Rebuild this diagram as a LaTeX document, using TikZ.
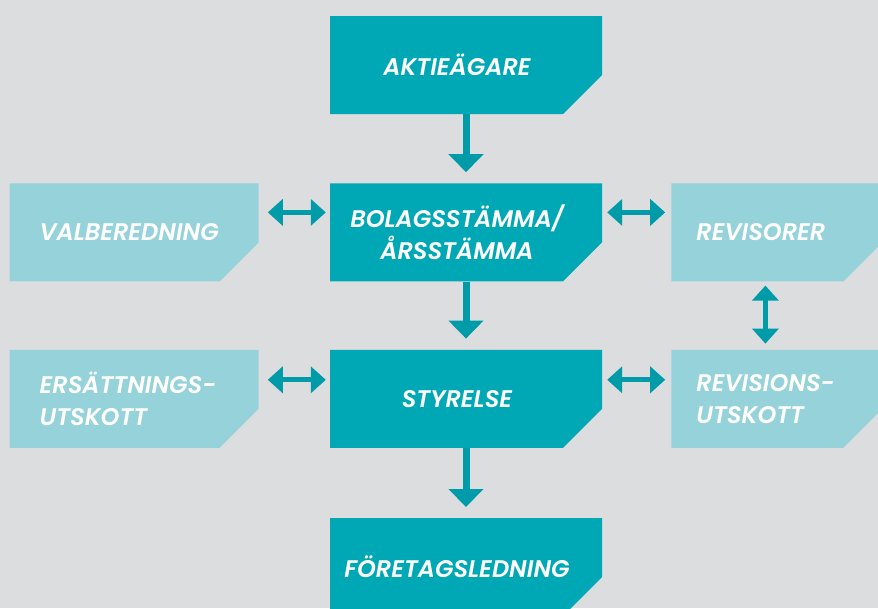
\documentclass[tikz,border=0pt]{standalone}
\usepackage{fontspec}
\setmainfont{Poppins}[ItalicFont=* SemiBold Italic]
\usetikzlibrary{arrows.meta,positioning}

\definecolor{bggray}{RGB}{220,221,223}
\definecolor{darkteal}{RGB}{0,168,182}
\definecolor{lightteal}{RGB}{150,210,218}
\definecolor{arrowteal}{RGB}{0,155,168}

\tikzset{
  cut fill/.style 2 args={path picture={
    \fill[#1] ([xshift=#2]path picture bounding box.north west)
      -- (path picture bounding box.north east)
      -- ([yshift=39pt]path picture bounding box.south east)
      -- ([xshift=-39pt]path picture bounding box.south east)
      -- ([xshift=#2]path picture bounding box.south west) -- cycle;}}
}

\begin{document}
\begin{tikzpicture}[x=1pt,y=-1pt,node distance=69pt,
    box/.style={rectangle,inner sep=0pt,minimum height=98pt,text=white,
      font=\fontsize{24}{32}\selectfont\itshape},
    main box/.style={box,cut fill={darkteal}{18pt},minimum width=290pt,align=center},
    left box/.style={box,cut fill={lightteal}{0pt},minimum width=249pt,text width=189pt,align=left},
    right box/.style={box,cut fill={lightteal}{0pt},minimum width=211pt,text width=161pt,align=left},
    down arrow/.style={-{Triangle[length=18pt,width=34pt]},line width=7pt,
      draw=arrowteal,shorten >=11pt},
    both arrow/.style={{Triangle[length=15pt,width=26pt]}-{Triangle[length=15pt,width=26pt]},
      line width=5pt,draw=arrowteal}]

  \useasboundingbox (0,0) rectangle (878,608);
  \fill[bggray] (0,0) rectangle (878,608);

  % main column
  \node[main box] (aktie) at (457,65) {AKTIEÄGARE};
  \node[main box] (bolag) [below=69pt of aktie] {BOLAGSSTÄMMA/\\ÅRSSTÄMMA};
  \node[main box] (styr) [below=68pt of bolag] {STYRELSE};
  \node[main box] (ledn) [below=70pt of styr] {FÖRETAGSLEDNING};

  % side boxes
  \node[left box] (valb) [left=53pt of bolag] {VALBEREDNING};
  \node[left box] (ersutsk) [left=53pt of styr] {ERSÄTTNINGS-\\UTSKOTT};
  \node[right box] (revis) [right=69pt of bolag] {REVISORER};
  \node[right box] (revutsk) [right=69pt of styr] {REVISIONS-\\UTSKOTT};

  \draw[down arrow] ([xshift=9pt]aktie.south) -- ([xshift=9pt]bolag.north);
  \draw[down arrow] ([xshift=9pt]bolag.south) -- ([xshift=9pt]styr.north);
  \draw[down arrow] ([xshift=9pt]styr.south) -- ([xshift=9pt]ledn.north);

  \draw[both arrow,shorten <=9pt,shorten >=4pt] ([yshift=20pt]valb.east) -- ([xshift=18pt,yshift=20pt]bolag.west);
  \draw[both arrow,shorten <=5pt,shorten >=6pt] ([yshift=20pt]bolag.east) -- ([yshift=20pt]revis.west);
  \draw[both arrow,shorten <=9pt,shorten >=4pt] ([yshift=19pt]ersutsk.east) -- ([xshift=18pt,yshift=19pt]styr.west);
  \draw[both arrow,shorten <=5pt,shorten >=6pt] ([yshift=19pt]styr.east) -- ([yshift=19pt]revutsk.west);
  \draw[both arrow,shorten <=4pt,shorten >=6pt] ([xshift=-11.5pt]revis.south) -- ([xshift=-11.5pt]revutsk.north);
\end{tikzpicture}
\end{document}
